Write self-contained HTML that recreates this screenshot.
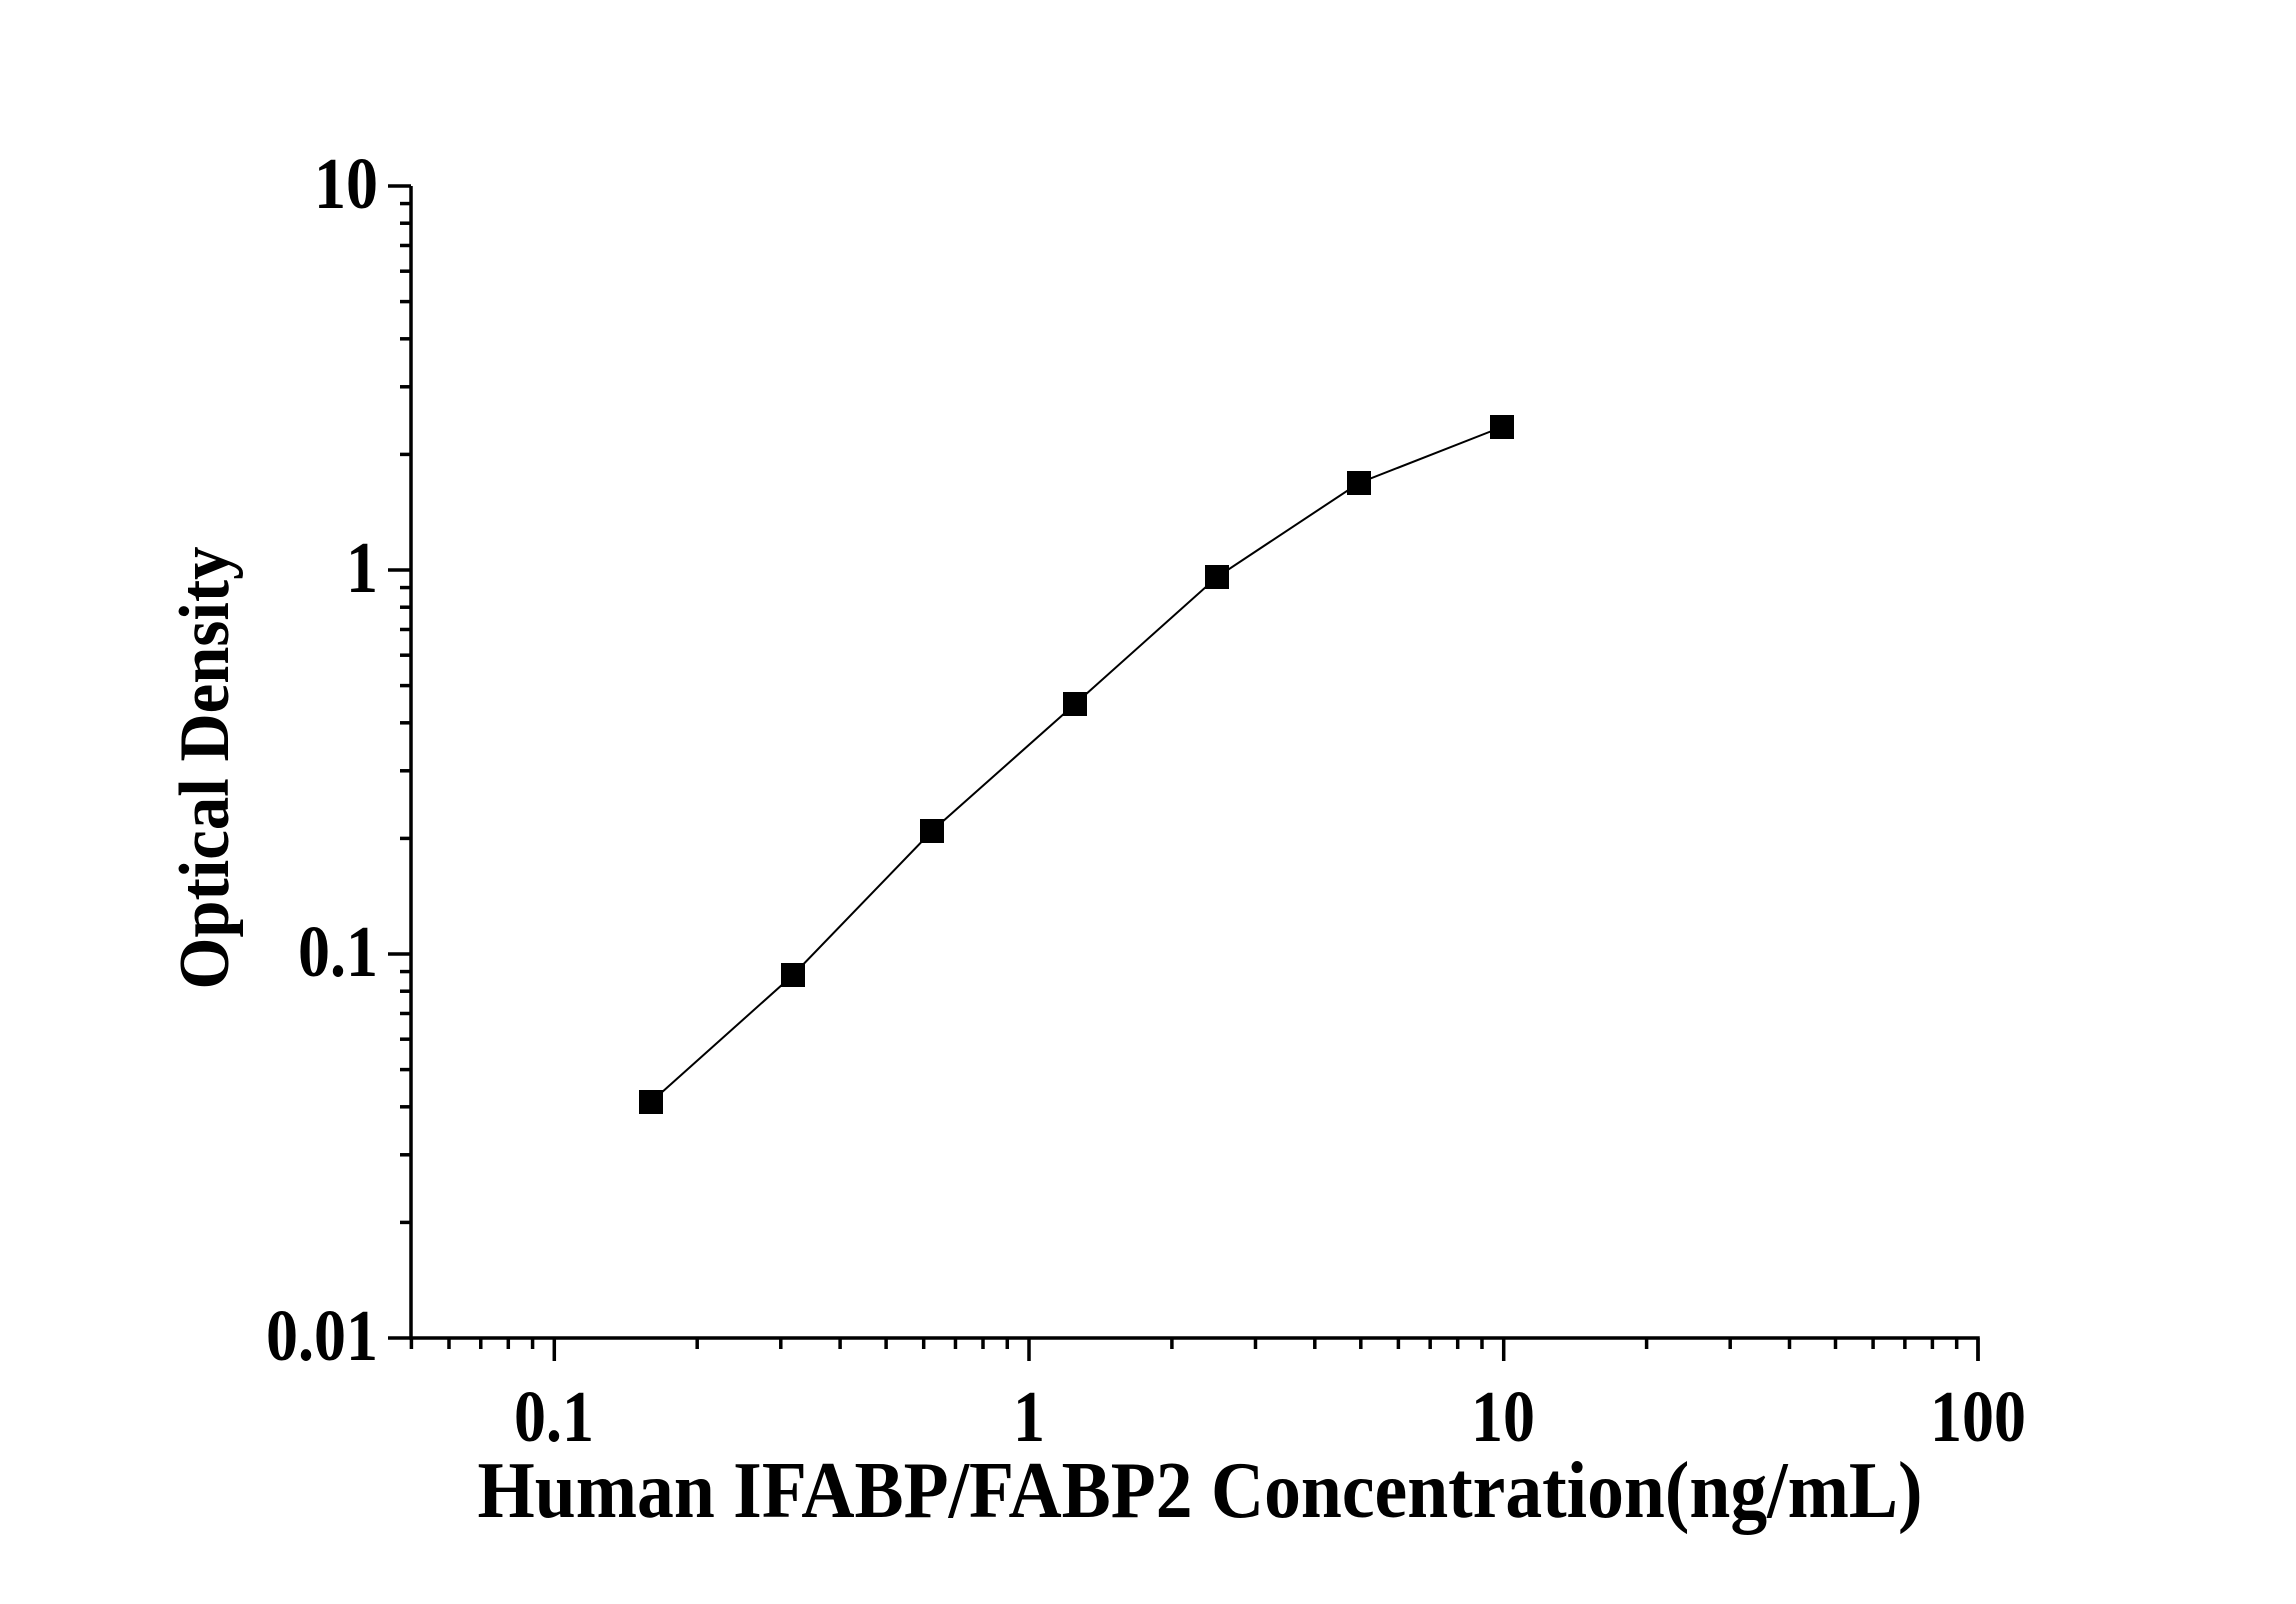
<!DOCTYPE html>
<html><head><meta charset="utf-8"><style>
html,body{margin:0;padding:0;background:#fff;}
svg{display:block;}
text{font-family:"Liberation Serif","Times New Roman",serif;font-weight:bold;fill:#000;}
</style></head><body>
<svg width="2296" height="1604" viewBox="0 0 2296 1604" xmlns="http://www.w3.org/2000/svg">
<rect width="2296" height="1604" fill="#fff"/>
<g stroke="#000" stroke-width="3.5" fill="none">
<path d="M411,186 V1338 H1978 V1361"/>
<path d="M388,186H411 M388,570H411 M388,954H411 M388,1338H411"/>
</g>
<g stroke="#000" stroke-width="3.5" id="ticks"></g>
<polyline fill="none" stroke="#000" stroke-width="2" points="651,1102 793,975 932,831 1075,704 1217,577 1359,483 1502,427"/>
<g fill="#000">
<rect x="639" y="1090" width="24" height="24"/>
<rect x="781" y="963" width="24" height="24"/>
<rect x="920" y="819" width="24" height="24"/>
<rect x="1063" y="692" width="24" height="24"/>
<rect x="1205" y="565" width="24" height="24"/>
<rect x="1347" y="471" width="24" height="24"/>
<rect x="1490" y="415" width="24" height="24"/>
</g>
<g font-size="64" text-anchor="end">
<text transform="translate(378,208) scale(1,1.15)">10</text>
<text transform="translate(378,592) scale(1,1.15)">1</text>
<text transform="translate(378,976) scale(1,1.15)">0.1</text>
<text transform="translate(378,1360) scale(1,1.15)">0.01</text>
</g>
<g font-size="64" text-anchor="middle">
<text transform="translate(554,1441) scale(1,1.15)">0.1</text>
<text transform="translate(1029,1441) scale(1,1.15)">1</text>
<text transform="translate(1503,1441) scale(1,1.15)">10</text>
<text transform="translate(1978,1441) scale(1,1.15)">100</text>
</g>
<text transform="translate(1200,1517) scale(1,1.12)" font-size="72" text-anchor="middle" textLength="1445" lengthAdjust="spacingAndGlyphs">Human IFABP/FABP2 Concentration(ng/mL)</text>
<text transform="translate(228,768) rotate(-90) scale(1,1.05)" font-size="68" text-anchor="middle" textLength="443" lengthAdjust="spacingAndGlyphs">Optical Density</text>
</svg>
<script>
(function(){
var ns="http://www.w3.org/2000/svg",g=document.getElementById("ticks");
function ln(x1,y1,x2,y2){var l=document.createElementNS(ns,"line");l.setAttribute("x1",x1);l.setAttribute("y1",y1);l.setAttribute("x2",x2);l.setAttribute("y2",y2);g.appendChild(l);}
for(var d=0;d<3;d++){var base=1338-d*384;for(var k=2;k<=9;k++){var y=base-Math.log10(k)*384;ln(400,y,411,y);}}
var x0=1029,dec=474.7;
for(var e=-2;e<=1;e++){for(var k=1;k<=9;k++){var v=k*Math.pow(10,e);if(v<0.05-1e-9)continue;var x=x0+Math.log10(v)*dec;if(x>1979)continue;if(k==1)ln(x,1338,x,1361);else ln(x,1338,x,1349);}}
ln(1978,1338,1978,1361);
})();
</script>
</body></html>
